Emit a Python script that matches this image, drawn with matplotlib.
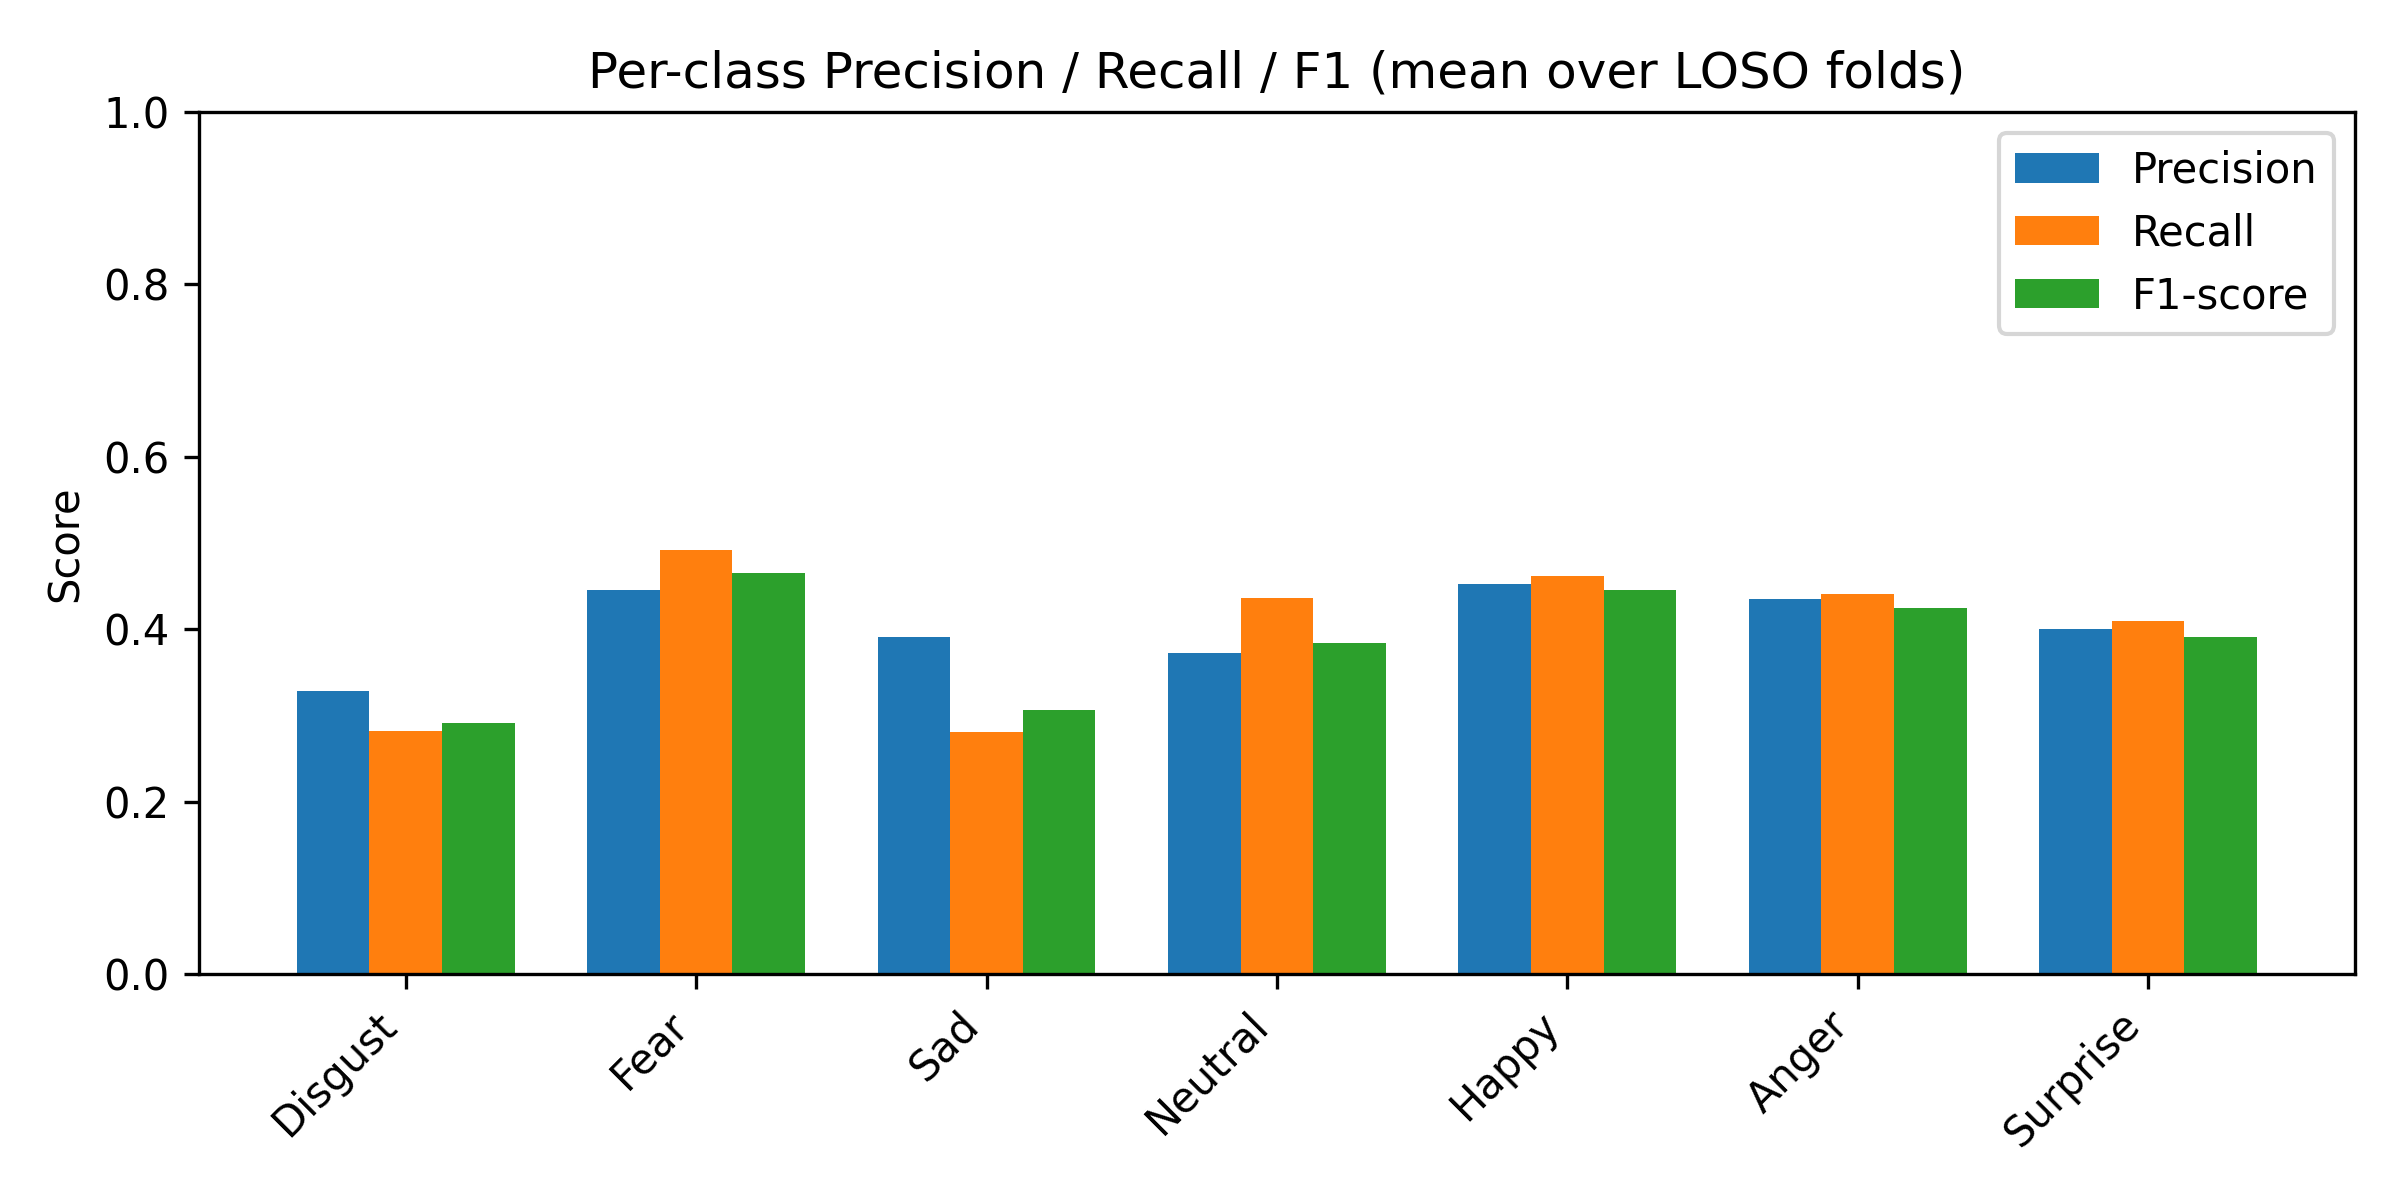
import numpy as np
import matplotlib.pyplot as plt

# ── per-class metrics (mean over LOSO folds) ─────────────────────────────────
CLASSES   = ["Disgust", "Fear", "Sad", "Neutral", "Happy", "Anger", "Surprise"]
PRECISION = [0.329, 0.446, 0.391, 0.373, 0.453, 0.435, 0.401]
RECALL    = [0.282, 0.492, 0.281, 0.437, 0.462, 0.441, 0.410]
F1        = [0.291, 0.465, 0.307, 0.384, 0.446, 0.425, 0.391]

x = np.arange(len(CLASSES)); w = 0.25
fig, ax = plt.subplots(figsize=(8, 4))
ax.bar(x - w, PRECISION, w, label="Precision")
ax.bar(x,     RECALL,    w, label="Recall")
ax.bar(x + w, F1,        w, label="F1-score")
ax.set_xticks(x)
ax.set_xticklabels(CLASSES, rotation=45, ha="right")
ax.set_ylim(0, 1.0)
ax.set_ylabel("Score")
ax.set_title("Per-class Precision / Recall / F1 (mean over LOSO folds)")
ax.legend(loc="upper right")
fig.tight_layout()
fig.savefig("out.png", dpi=300, facecolor="white")
